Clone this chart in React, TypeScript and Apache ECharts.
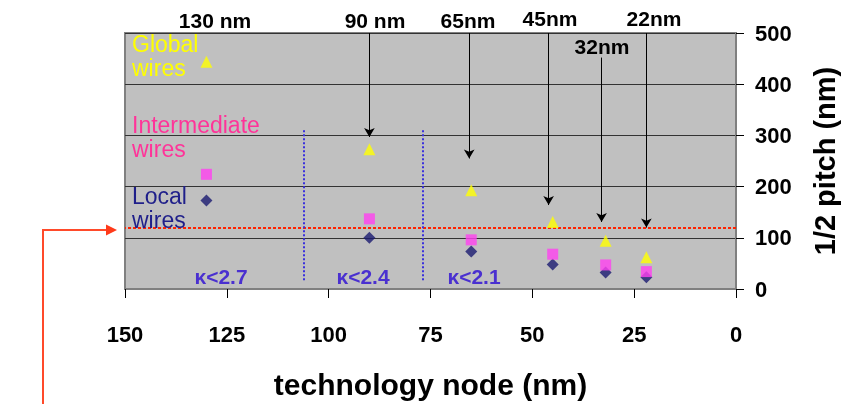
import React, { useEffect, useRef } from "react";
import * as echarts from "echarts";

const nodes = [130, 90, 65, 45, 32, 22];
const globalWires = [444, 273, 193, 131, 94, 62];
const intermediateWires = [224, 137, 96, 68, 47, 34];
const localWires = [173, 100, 73, 48, 32, 23];

const xTicks = [0, 25, 50, 75, 100, 125, 150];
const yTicks = [0, 100, 200, 300, 400, 500];

// arrows from node labels: [x, yStart, yEnd]
const arrowX = [90, 65.5, 46, 33, 22];
const arrowStart = [500, 500, 500, 452, 500];
const arrowEnd = [297, 255, 164, 131, 120];

const kLines = [106.2, 76.8];
const kLineRange = [310, 14];
const pitchTarget = 120;

const nodeLabels = ["130 nm", "90 nm", "65nm", "45nm", "32nm", "22nm"];
const kLabels = ["κ<2.7", "κ<2.4", "κ<2.1"];

const FONT = "'Liberation Sans', Arial, Helvetica, sans-serif";

export default function App() {
  const ref = useRef<HTMLDivElement>(null);
  useEffect(() => {
    if (!ref.current) return;
    const chart = echarts.init(ref.current, undefined, { renderer: "svg" });

    const nodeLabelPos = [
      [215, 20],
      [375, 20],
      [468, 20],
      [550, 18],
      [602, 46],
      [654, 18],
    ];
    const kLabelPos = [
      [221, 276],
      [363, 276],
      [474, 276],
    ];

    const graphics: any[] = [];
    nodeLabels.forEach((t, i) => {
      graphics.push({
        type: "text",
        x: nodeLabelPos[i][0],
        y: nodeLabelPos[i][1],
        style: {
          text: t,
          fill: "#000",
          font: `bold 21px ${FONT}`,
          textAlign: "center",
          textVerticalAlign: "middle",
        },
        z: 100,
      });
    });
    kLabels.forEach((t, i) => {
      graphics.push({
        type: "text",
        x: kLabelPos[i][0],
        y: kLabelPos[i][1],
        style: {
          text: t,
          fill: "#4a30d0",
          font: `bold 21px ${FONT}`,
          textAlign: "center",
          textVerticalAlign: "middle",
        },
        z: 100,
      });
    });
    const legendTexts = [
      { text: "Global\nwires", y: 32, fill: "#ffff00" },
      { text: "Intermediate\nwires", y: 113, fill: "#ff3399" },
      { text: "Local\nwires", y: 184, fill: "#1f1f8a" },
    ];
    legendTexts.forEach((l) => {
      graphics.push({
        type: "text",
        x: 132,
        y: l.y,
        style: {
          text: l.text,
          fill: l.fill,
          font: `23px ${FONT}`,
          lineHeight: 24,
          textAlign: "left",
          textVerticalAlign: "top",
        },
        z: 100,
      });
    });
    graphics.push({
      type: "polyline",
      shape: { points: [[43, 404], [43, 230], [108, 230]] },
      style: { stroke: "#ff4a2a", lineWidth: 2, fill: "none" },
      z: 100,
    });
    graphics.push({
      type: "polygon",
      shape: { points: [[106, 224.5], [117, 230], [106, 235.5]] },
      style: { fill: "#ff3a1a" },
      z: 100,
    });

    const arrowData = arrowX.map((x, i) => [
      { coord: [x, arrowStart[i]], symbol: "none" },
      { coord: [x, arrowEnd[i]], symbol: "arrow" },
    ]);
    const kData = kLines.map((x) => [
      { coord: [x, kLineRange[0]] },
      { coord: [x, kLineRange[1]] },
    ]);

    chart.setOption({
      animation: false,
      grid: {
        left: 125,
        right: 105,
        top: 33,
        bottom: 115,
        containLabel: false,
        outerBoundsMode: "none",
        show: true,
        backgroundColor: "#c0c0c0",
        borderColor: "#808080",
        borderWidth: 2,
      },
      xAxis: {
        type: "value",
        inverse: true,
        min: xTicks[0],
        max: xTicks[xTicks.length - 1],
        interval: 25,
        name: "technology node (nm)",
        nameLocation: "middle",
        nameGap: 80,
        nameTextStyle: {
          color: "#000",
          fontFamily: FONT,
          fontWeight: "bold",
          fontSize: 30,
        },
        axisLine: { show: true, lineStyle: { color: "#808080", width: 2 } },
        axisTick: { show: true, length: 9, lineStyle: { color: "#000", width: 1 } },
        axisLabel: {
          color: "#000",
          fontFamily: FONT,
          fontWeight: "bold",
          fontSize: 22,
          margin: 34,
        },
        splitLine: { show: false },
      },
      yAxis: {
        type: "value",
        position: "right",
        min: yTicks[0],
        max: yTicks[yTicks.length - 1],
        interval: 100,
        name: "1/2 pitch (nm)",
        nameLocation: "middle",
        nameRotate: 90,
        nameGap: 74,
        nameTextStyle: {
          color: "#000",
          fontFamily: FONT,
          fontWeight: "bold",
          fontSize: 29,
        },
        axisLine: { show: true, lineStyle: { color: "#808080", width: 2 } },
        axisTick: { show: true, length: 8, lineStyle: { color: "#000", width: 1 } },
        axisLabel: {
          color: "#000",
          fontFamily: FONT,
          fontWeight: "bold",
          fontSize: 22,
          margin: 19,
        },
        splitLine: { show: true, lineStyle: { color: "#333", width: 1 } },
      },
      series: [
        {
          name: "Global wires",
          type: "scatter",
          symbol: "triangle",
          symbolSize: 12,
          itemStyle: { color: "#ffff00" },
          data: nodes.map((n, i) => [n, globalWires[i]]),
          z: 5,
        },
        {
          name: "Intermediate wires",
          type: "scatter",
          symbol: "rect",
          symbolSize: 11,
          itemStyle: { color: "#ff40f0" },
          data: nodes.map((n, i) => [n, intermediateWires[i]]),
          z: 4,
        },
        {
          name: "Local wires",
          type: "scatter",
          symbol: "diamond",
          symbolSize: 12,
          itemStyle: { color: "#1a1a70" },
          data: nodes.map((n, i) => [n, localWires[i]]),
          z: 3,
          markLine: {
            silent: true,
            symbol: "none",
            label: { show: false },
            lineStyle: { color: "#ff2200", type: [3, 2], width: 2 },
            data: [{ yAxis: pitchTarget }],
          },
        },
        {
          name: "arrows",
          type: "scatter",
          data: [],
          markLine: {
            silent: true,
            symbolSize: [8, 9],
            label: { show: false },
            lineStyle: { color: "#000", type: "solid", width: 1 },
            data: arrowData,
          },
          z: 6,
        },
        {
          name: "kappa",
          type: "scatter",
          data: [],
          markLine: {
            silent: true,
            symbol: "none",
            label: { show: false },
            lineStyle: { color: "#3a30dd", type: [2, 2], width: 2 },
            data: kData,
          },
        },
      ],
      graphic: graphics,
    });
    return () => chart.dispose();
  }, []);
  return (
    <div
      ref={ref}
      style={{ position: "fixed", left: 0, top: 0, width: 841, height: 404 }}
    />
  );
}
